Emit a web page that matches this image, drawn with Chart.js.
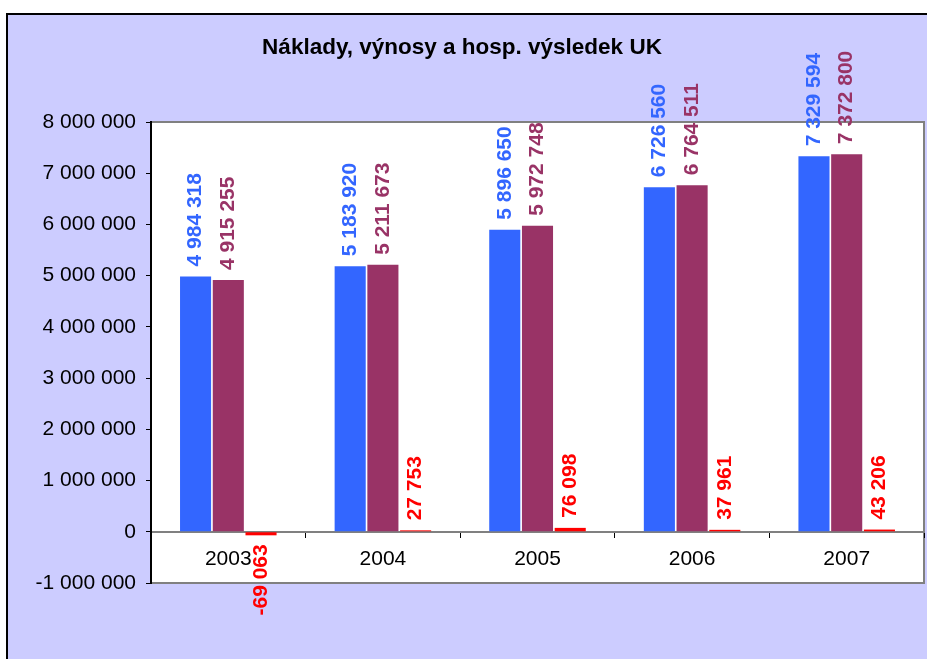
<!DOCTYPE html>
<html>
<head>
<meta charset="utf-8">
<script src="https://cdn.jsdelivr.net/npm/chart.js@4"></script>
<style>
  body { margin: 0; background: #fff; }
  #wrap { width: 927px; height: 659px; }
</style>
</head>
<body>
<div id="wrap"><canvas id="chart" width="927" height="659"></canvas></div>
<script>
// Chart data
const years = ['2003', '2004', '2005', '2006', '2007'];
const naklady = [4984318, 5183920, 5896650, 6726560, 7329594];
const vynosy = [4915255, 5211673, 5972748, 6764511, 7372800];
const vysledek = [-69063, 27753, 76098, 37961, 43206];

const FONT = '"Liberation Sans", Arial, sans-serif';

// 1234567 -> "1 234 567"
function fmt(v) {
    const s = String(Math.abs(Math.round(v))).replace(/\B(?=(\d{3})+(?!\d))/g, ' ');
    return (v < 0 ? '-' : '') + s;
}

// Background: lavender frame and white plot area
const backgroundPlugin = {
    id: 'background',
    beforeDraw(chart) {
        const ctx = chart.ctx;
        const a = chart.chartArea;
        ctx.save();
        ctx.fillStyle = '#ffffff';
        ctx.fillRect(0, 0, chart.width, chart.height);
        ctx.fillStyle = '#ccccff';
        ctx.fillRect(7, 14, chart.width, chart.height);
        ctx.strokeStyle = '#000000';
        ctx.lineWidth = 2;
        ctx.strokeRect(7, 14, chart.width + 10, chart.height + 10);
        ctx.fillStyle = '#ffffff';
        ctx.fillRect(a.left, a.top, a.right - a.left, a.bottom - a.top);
        ctx.strokeStyle = '#808080';
        ctx.lineWidth = 2;
        ctx.strokeRect(a.left, a.top, a.right - a.left, a.bottom - a.top);
        ctx.restore();
    }
};

// Vertical value labels at the end of each bar
const labelPlugin = {
    id: 'barLabels',
    afterDraw(chart) {
        const ctx = chart.ctx;
        ctx.save();
        ctx.font = 'bold 21px ' + FONT;
        ctx.textBaseline = 'middle';
        chart.data.datasets.forEach((ds, i) => {
            const meta = chart.getDatasetMeta(i);
            meta.data.forEach((bar, j) => {
                const v = ds.data[j];
                ctx.save();
                ctx.fillStyle = ds.labelColor;
                if (v >= 0) {
                    ctx.translate(bar.x, bar.y - 10);
                    ctx.rotate(-Math.PI / 2);
                    ctx.textAlign = 'left';
                } else {
                    ctx.translate(bar.x, bar.y + 9);
                    ctx.rotate(-Math.PI / 2);
                    ctx.textAlign = 'right';
                }
                ctx.fillText(fmt(v), 0, 0);
                ctx.restore();
            });
        });
        ctx.restore();
    }
};

const chart = new Chart(document.getElementById('chart').getContext('2d'), {
    type: 'bar',
    data: {
        labels: years,
        datasets: [
            {
                label: 'Náklady',
                data: naklady,
                backgroundColor: '#3366ff',
                labelColor: '#3366ff'
            },
            {
                label: 'Výnosy',
                data: vynosy,
                backgroundColor: '#993366',
                labelColor: '#993366'
            },
            {
                label: 'Hosp. výsledek',
                data: vysledek,
                backgroundColor: '#ff0000',
                labelColor: '#ff0000'
            }
        ]
    },
    options: {
        responsive: false,
        animation: false,
        devicePixelRatio: 1,
        layout: {
            padding: { left: 0, right: 3, top: 0, bottom: 76 }
        },
        datasets: {
            bar: {
                categoryPercentage: 0.635,
                barPercentage: 0.95,
                borderWidth: 0
            }
        },
        scales: {
            x: {
                position: { y: 0 },
                grid: {
                    drawOnChartArea: false,
                    drawTicks: true,
                    tickLength: 5,
                    offset: true,
                    color: '#000000'
                },
                border: { color: '#808080', width: 2 },
                ticks: {
                    color: '#000000',
                    padding: 10,
                    font: { family: FONT, size: 21 }
                }
            },
            y: {
                min: -1000000,
                max: 8000000,
                afterFit(scale) { scale.width = 151; },
                grid: {
                    drawOnChartArea: false,
                    drawTicks: true,
                    tickLength: 5,
                    color: '#000000'
                },
                border: { color: '#000000', width: 2 },
                ticks: {
                    stepSize: 1000000,
                    color: '#000000',
                    padding: 10,
                    font: { family: FONT, size: 21 },
                    callback: (v) => fmt(v)
                }
            }
        },
        plugins: {
            legend: { display: false },
            tooltip: { enabled: false },
            title: {
                display: true,
                text: 'Náklady, výnosy a hosp. výsledek UK',
                color: '#000000',
                font: { family: FONT, size: 22.5, weight: 'bold' },
                padding: { top: 34, bottom: 61 }
            }
        }
    },
    plugins: [backgroundPlugin, labelPlugin]
});
</script>
</body>
</html>
